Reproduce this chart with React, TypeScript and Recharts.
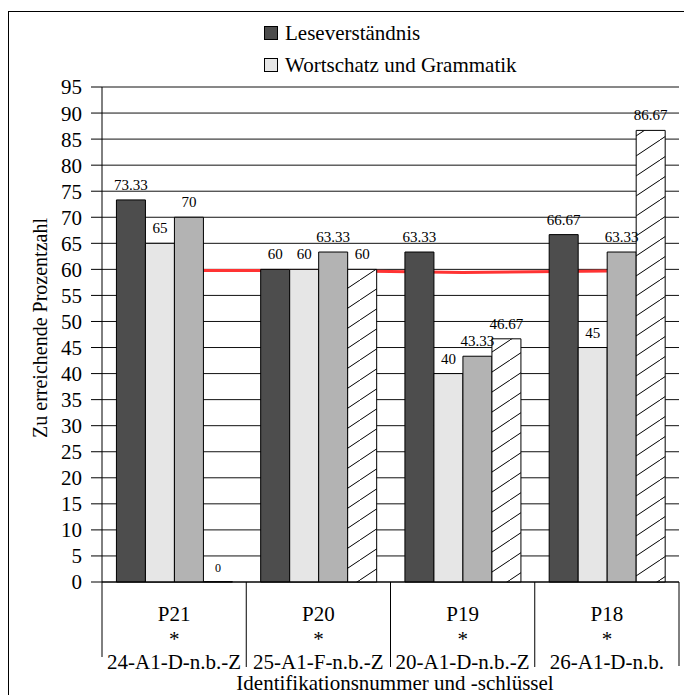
import React from "react";
import {
  ComposedChart,
  Bar,
  Line,
  XAxis,
  YAxis,
  CartesianGrid,
  LabelList,
} from "recharts";

const categories = ["P21", "P20", "P19", "P18"];
const codes = ["24-A1-D-n.b.-Z", "25-A1-F-n.b.-Z", "20-A1-D-n.b.-Z", "26-A1-D-n.b."];
const leseverstaendnis = [73.33, 60, 63.33, 66.67];
const wortschatz = [65, 60, 40, 45];
const reihe3 = [70, 63.33, 43.33, 63.33];
const reihe4 = [0, 60, 46.67, 86.67];
const grenzwert = [59.8, 59.8, 59.4, 59.7];
const yTicks = [0, 5, 10, 15, 20, 25, 30, 35, 40, 45, 50, 55, 60, 65, 70, 75, 80, 85, 90, 95];
const legendNames = ["Leseverständnis", "Wortschatz und Grammatik"];
const legendColors = ["#4d4d4d", "#e6e6e6"];
const yTitle = "Zu erreichende Prozentzahl";
const xTitle = "Identifikationsnummer und -schlüssel";

const data = categories.map((c, i) => ({
  category: c,
  code: codes[i],
  lese: leseverstaendnis[i],
  wort: wortschatz[i],
  r3: reihe3[i],
  r4: reihe4[i],
  grenz: grenzwert[i],
}));

const FONT = '"Liberation Serif", "Times New Roman", serif';

function renderCategoryTick(props: any) {
  const { x, y, payload } = props;
  const idx = categories.indexOf(payload.value);
  const half =
    payload && typeof payload.offset === "number" && payload.offset > 0
      ? payload.offset
      : 577 / categories.length / 2;
  const last = idx === categories.length - 1;
  return (
    <g key={`ct-${idx}`}>
      <line
        x1={x - half}
        x2={x - half}
        y1={y}
        y2={y + (idx === 0 ? 75 : 85)}
        stroke="#000"
        strokeWidth={1}
      />
      {last && (
        <line x1={x + half} x2={x + half} y1={y} y2={y + 84} stroke="#000" strokeWidth={1} />
      )}
      <text x={x} y={y + 39} textAnchor="middle" fontSize={21} fontFamily={FONT} fill="#000">
        {payload.value}
      </text>
      <text x={x} y={y + 64} textAnchor="middle" fontSize={21} fontFamily={FONT} fill="#000">
        *
      </text>
      <text x={x} y={y + 87} textAnchor="middle" fontSize={21} fontFamily={FONT} fill="#000">
        {codes[idx]}
      </text>
    </g>
  );
}

function renderBarLabel(props: any) {
  const { x, y, width, value, index } = props;
  if (value === undefined || value === null) return null;
  const fs = Number(value) === 0 ? 12 : 15;
  return (
    <text
      key={`bl-${index}-${x}`}
      x={Number(x) + Number(width) / 2}
      y={Number(y) - 10}
      textAnchor="middle"
      fontSize={fs}
      fontFamily={FONT}
      fill="#000"
    >
      {String(value)}
    </text>
  );
}

export default function App() {
  return (
    <div style={{ position: "absolute", left: 0, top: 0, width: 688, height: 695, fontFamily: FONT }}>
      <svg width={0} height={0} style={{ position: "absolute" }}>
        <defs>
          <pattern id="hatch" patternUnits="userSpaceOnUse" width={30} height={20}>
            <rect x={0} y={0} width={30} height={20} fill="#fff" />
            <line x1={-30} y1={40} x2={60} y2={-20} stroke="#000" strokeWidth={1} />
          </pattern>
        </defs>
      </svg>
      <div
        style={{
          position: "absolute",
          left: 8,
          top: 11,
          width: 675,
          height: 683,
          borderTop: "1px solid #000",
          borderLeft: "1px solid #000",
        }}
      />
      <div style={{ position: "absolute", left: 264, top: 17, fontSize: 21, color: "#000" }}>
        {legendNames.map((n, i) => (
          <div key={n} style={{ display: "flex", alignItems: "center", height: 32, whiteSpace: "nowrap" }}>
            <span
              style={{
                display: "inline-block",
                width: 12,
                height: 12,
                border: "1px solid #000",
                background: legendColors[i],
                marginRight: 7,
              }}
            />
            <span>{n}</span>
          </div>
        ))}
      </div>
      <div
        style={{
          position: "absolute",
          left: 40,
          top: 328,
          fontSize: 20,
          color: "#000",
          whiteSpace: "nowrap",
          transform: "translate(-50%, -50%) rotate(-90deg)",
        }}
      >
        {yTitle}
      </div>
      <div
        style={{
          position: "absolute",
          left: 395,
          top: 683,
          fontSize: 21,
          color: "#000",
          whiteSpace: "nowrap",
          transform: "translate(-50%, -50%)",
          lineHeight: "20px",
        }}
      >
        {xTitle}
      </div>
      <div style={{ position: "absolute", left: 0, top: 0 }}>
        <ComposedChart
          width={688}
          height={695}
          data={data}
          margin={{ top: 87, right: 9, bottom: 0, left: 0 }}
          barCategoryGap="10%"
          barGap={0}
        >
          <CartesianGrid horizontal={true} vertical={false} stroke="#111" strokeOpacity={1} yAxisId="left" />
          <XAxis
            dataKey="category"
            height={113}
            tickSize={0}
            tickMargin={0}
            tickLine={false}
            axisLine={{ stroke: "#000" }}
            interval={0}
            tick={renderCategoryTick}
          />
          <YAxis
            yAxisId="left"
            domain={[0, 95]}
            ticks={yTicks}
            interval={0}
            width={102}
            tickSize={11}
            tickMargin={9}
            axisLine={{ stroke: "#000" }}
            tickLine={{ stroke: "#000" }}
            tick={{ fill: "#000", fontSize: 21, fontFamily: FONT }}
          />
          <YAxis
            yAxisId="right"
            orientation="right"
            domain={[0, 95]}
            ticks={yTicks}
            width={0}
            tick={false}
            tickLine={false}
            axisLine={{ stroke: "#000" }}
          />
          <Line
            yAxisId="left"
            dataKey="grenz"
            type="linear"
            stroke="#ff3333"
            strokeWidth={3}
            dot={false}
            legendType="none"
            isAnimationActive={false}
            zIndex={100}
          />
          <Bar yAxisId="left" dataKey="lese" name={legendNames[0]} fill="#4d4d4d" stroke="#000" strokeWidth={1} isAnimationActive={false}>
            <LabelList dataKey="lese" content={renderBarLabel} />
          </Bar>
          <Bar yAxisId="left" dataKey="wort" name={legendNames[1]} fill="#e6e6e6" stroke="#000" strokeWidth={1} isAnimationActive={false}>
            <LabelList dataKey="wort" content={renderBarLabel} />
          </Bar>
          <Bar yAxisId="left" dataKey="r3" name="Reihe 3" fill="#b3b3b3" stroke="#000" strokeWidth={1} isAnimationActive={false}>
            <LabelList dataKey="r3" content={renderBarLabel} />
          </Bar>
          <Bar yAxisId="left" dataKey="r4" name="Reihe 4" fill="url(#hatch)" stroke="#000" strokeWidth={1} minPointSize={0.3} isAnimationActive={false}>
            <LabelList dataKey="r4" content={renderBarLabel} />
          </Bar>
        </ComposedChart>
      </div>
    </div>
  );
}
